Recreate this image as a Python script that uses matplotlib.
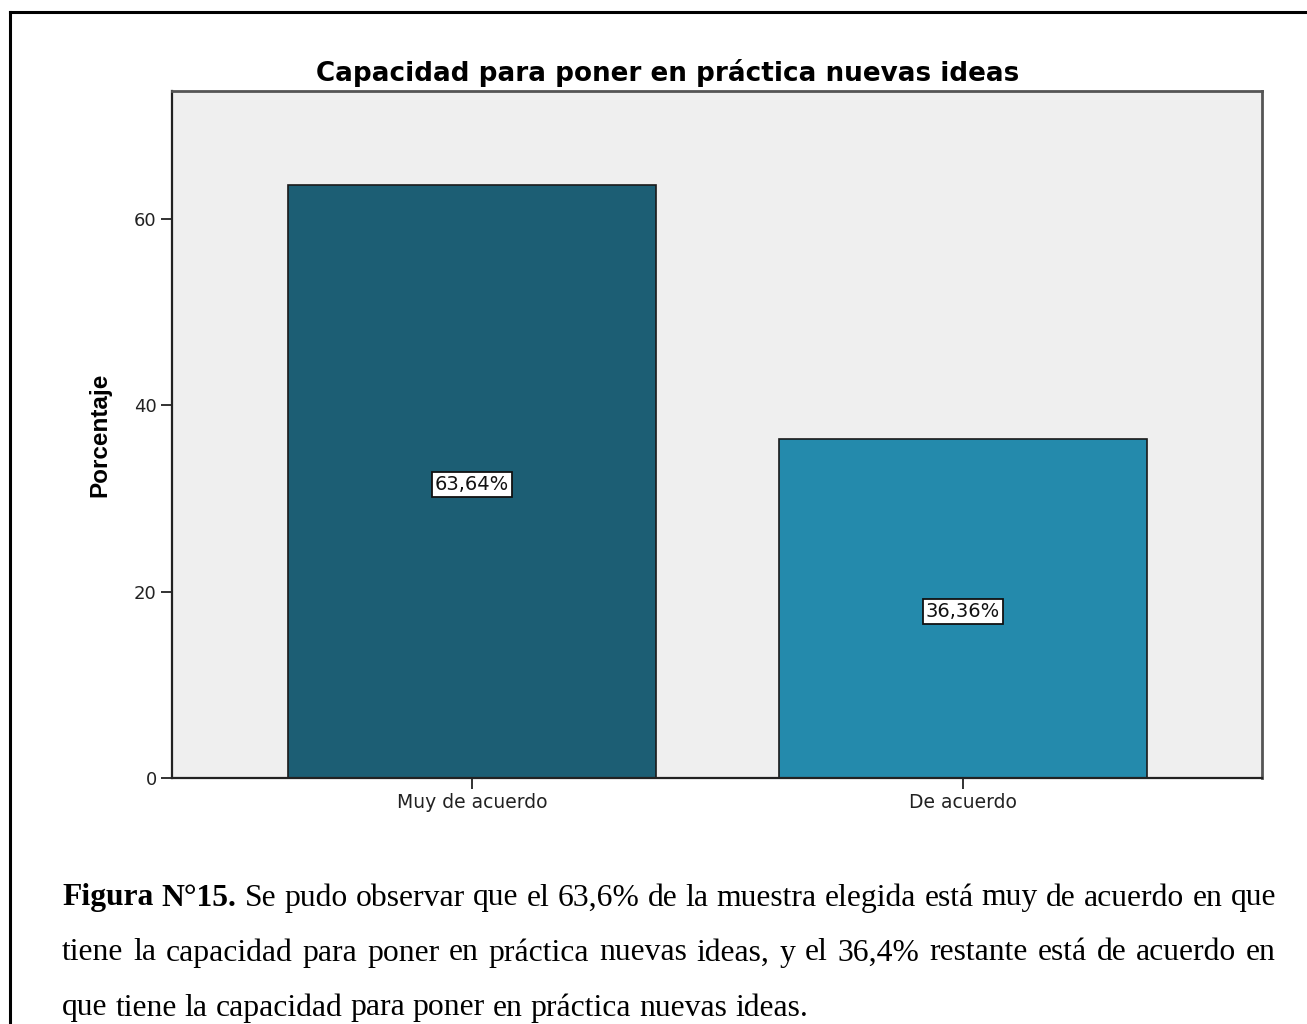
import matplotlib
matplotlib.use("Agg")
import matplotlib.pyplot as plt
from matplotlib.lines import Line2D

# datos
categorias = ["Muy de acuerdo", "De acuerdo"]
porcentajes = [63.64, 36.36]
etiquetas = ["63,64%", "36,36%"]
colores = ["#1c5e74", "#248aac"]
titulo = "Capacidad para poner en práctica nuevas ideas"
eje_y = "Porcentaje"
yticks = [0, 20, 40, 60]

leyenda_lineas = [
    [("Figura", True), ("N°15.", True), ("Se", False), ("pudo", False), ("observar", False),
     ("que", False), ("el", False), ("63,6%", False), ("de", False), ("la", False),
     ("muestra", False), ("elegida", False), ("está", False), ("muy", False), ("de", False),
     ("acuerdo", False), ("en", False), ("que", False)],
    [("tiene", False), ("la", False), ("capacidad", False), ("para", False), ("poner", False),
     ("en", False), ("práctica", False), ("nuevas", False), ("ideas,", False), ("y", False),
     ("el", False), ("36,4%", False), ("restante", False), ("está", False), ("de", False),
     ("acuerdo", False), ("en", False)],
    [("que", False), ("tiene", False), ("la", False), ("capacidad", False), ("para", False),
     ("poner", False), ("en", False), ("práctica", False), ("nuevas", False), ("ideas.", False)],
]

W, H = 1307, 1024
fig = plt.figure(figsize=(W / 100, H / 100), dpi=100)

# marco exterior (solo izquierda y arriba visibles)
fig.add_artist(Line2D([10 / W, 10 / W], [0, 1 - 12 / H], color="black", lw=2.2,
                      transform=fig.transFigure))
fig.add_artist(Line2D([10 / W, 1], [1 - 12 / H, 1 - 12 / H], color="black", lw=2.2,
                      transform=fig.transFigure))

# ejes
x0, x1, y0, y1 = 172, 1262, 91, 778
ax = fig.add_axes([x0 / W, 1 - y1 / H, (x1 - x0) / W, (y1 - y0) / H])
ax.set_facecolor("#efefef")

pos = range(len(categorias))
barras = ax.bar(pos, porcentajes, width=0.75, color=colores, edgecolor="#1a1a1a", linewidth=1.2)
for b, txt in zip(barras, etiquetas):
    ax.text(b.get_x() + b.get_width() / 2, b.get_height() / 2 - 0.3, txt, ha="center", va="center",
            fontsize=14, color="#111111",
            bbox=dict(boxstyle="square,pad=0.15", facecolor="white", edgecolor="#111111", lw=1.3))

ax.set_xlim(-0.611, 1.609)
ax.set_ylim(0, 73.7)
ax.set_xticks(list(pos))
ax.set_xticklabels(categorias, fontsize=13.5, color="#222222")
ax.set_yticks(yticks)
ax.set_yticklabels([str(v) for v in yticks], fontsize=13, color="#222222")
ax.tick_params(direction="out", length=8, width=1.3, color="#222222", pad=3)
for s in ["left", "bottom"]:
    ax.spines[s].set_color("#222222")
    ax.spines[s].set_linewidth(1.6)
for s in ["top", "right"]:
    ax.spines[s].set_color("#555555")
    ax.spines[s].set_linewidth(2)

fig.text(668 / W, 1 - 73 / H, titulo, ha="center", va="center", fontsize=18.9,
         fontweight="bold", family="DejaVu Sans")
fig.text(100 / W, 1 - 435 / H, eje_y, ha="center", va="center", rotation=90,
         fontsize=17.5, fontweight="bold", family="Liberation Sans")

# texto de la figura, justificado
renderer = fig.canvas.get_renderer()
izq, der = 62, 1276
ys = [898, 953, 1008]
fs = 22.8
for n, (linea, yy) in enumerate(zip(leyenda_lineas, ys)):
    arts = []
    for palabra, negrita in linea:
        t = fig.text(0, 1 - yy / H, palabra, ha="left", va="center", fontsize=fs,
                     family="Liberation Serif", fontweight="bold" if negrita else "normal")
        arts.append(t)
    anchos = [a.get_window_extent(renderer).width for a in arts]
    if n < len(leyenda_lineas) - 1:
        gap = (der - izq - sum(anchos)) / (len(arts) - 1)
    else:
        gap = fs * 1.389 * 0.25
    x = izq
    for a, w in zip(arts, anchos):
        a.set_x(x / W)
        x += w + gap

fig.savefig("out.png", dpi=100)
